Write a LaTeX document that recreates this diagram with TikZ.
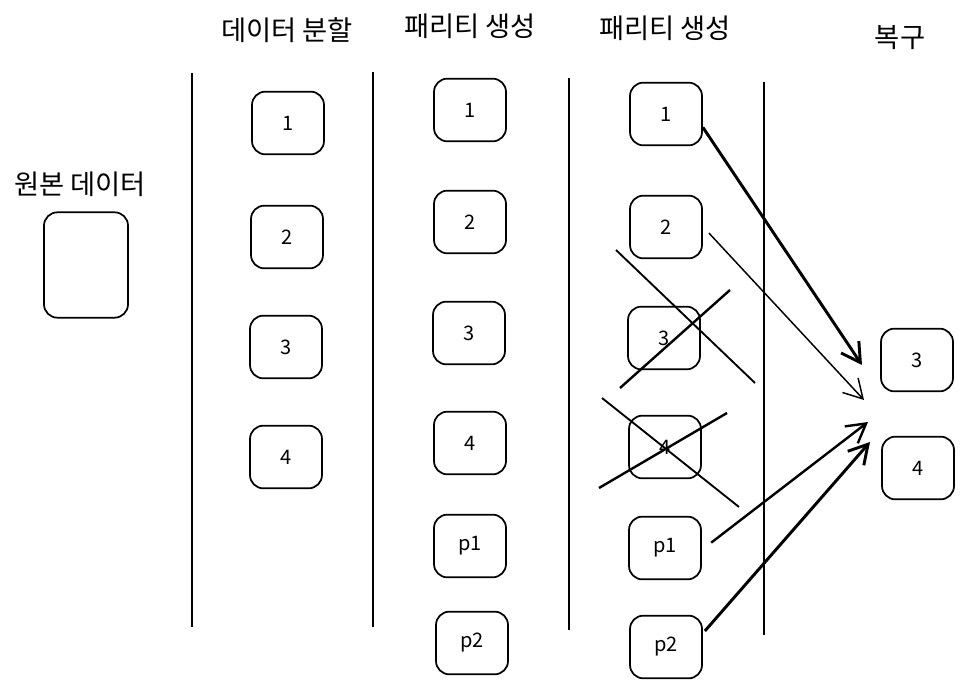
\documentclass[tikz,border=0pt]{standalone}
\usepackage{fontspec}
\setmainfont{Noto Sans CJK KR}
\usetikzlibrary{arrows.meta}

\tikzset{
  box/.style={draw, line width=1.3pt, rounded corners=10pt, minimum width=54pt, minimum height=47pt, font=\fontsize{15}{17}\selectfont},
  title/.style={font=\fontsize{20.5}{24}\selectfont},
  divider/.style={line width=1.8pt},
  strike/.style={line width=1.4pt},
  recover/.style={-{Straight Barb[length=14pt,width=16pt]}, line width=1.3pt},
}

\begin{document}
\begin{tikzpicture}[x=0.75pt,y=-0.75pt]
\useasboundingbox (0,0) rectangle (964,688);

% titles
\node[title] (t0) at (80,184) {원본 데이터};
\node[title] (t1) at (287,30) {데이터 분할};
\node[title] (t2) at (470,26) {패리티 생성};
\node[title] (t3) at (665,28) {패리티 생성};
\node[title] (t4) at (900,38) {복구};

% original data
\node[box, minimum width=63pt, minimum height=79pt] (orig) at (86,265) {};

% split
\node[box] (s1) at (288,123) {1};
\node[box] (s2) at (287,237) {2};
\node[box] (s3) at (286,347) {3};
\node[box] (s4) at (286,457) {4};

% parity
\node[box] (g1) at (470,110) {1};
\node[box] (g2) at (470,222) {2};
\node[box] (g3) at (469,333) {3};
\node[box] (g4) at (470,443) {4};
\node[box] (g5) at (470,546) {p1};
\node[box] (g6) at (472,643) {p2};

% parity, two lost
\node[box] (r1) at (666,114) {1};
\node[box] (r2) at (666,227) {2};
\node[box] (r3) at (664,338) {3};
\node[box] (r4) at (665,447) {4};
\node[box] (r5) at (665,548) {p1};
\node[box] (r6) at (666,647) {p2};

% recovered
\node[box] (c3) at (917,360) {3};
\node[box] (c4) at (918,468) {4};

% dividers
\draw[divider, line width=2.2pt] (192,73) -- (192,627);
\draw[divider] (373,72) -- (373,627);
\draw[divider] (569,78) -- (569,630);
\draw[divider, line width=1.6pt] (764,82) -- (764,635);

% lost blocks
\draw[strike] (616,250) -- (755,383);
\draw[strike, line width=1.8pt] (620,388) -- (730,290);
\draw[strike] (602,398) -- (739,507);
\draw[strike, line width=1.8pt] (599,488) -- (727,413);

% recovery
\coordinate (h1) at (862,365);
\coordinate (h2) at (864,400);
\coordinate (h3) at (868,422);
\coordinate (h4) at (870,442);
\draw[recover, line width=2.2pt] ([yshift=-10pt]r1.east) -- (h1);
\draw[recover, line width=1.1pt] ([xshift=4.5pt,yshift=-4.5pt]r2.east) -- (h2);
\draw[recover, line width=1.8pt] ([xshift=7pt,yshift=4pt]r5.east) -- (h3);
\draw[recover, line width=2.2pt] ([xshift=1.5pt,yshift=12pt]r6.east) -- (h4);
\end{tikzpicture}
\end{document}
